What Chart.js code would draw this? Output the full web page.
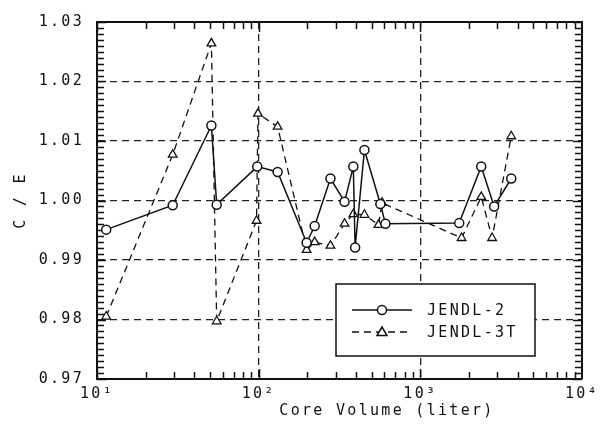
<!DOCTYPE html>
<html>
<head>
<meta charset="utf-8">
<script src="https://cdn.jsdelivr.net/npm/chart.js@4"></script>
<style>
html, body { margin: 0; padding: 0; background: #fff; }
</style>
</head>
<body>
<canvas id="grafico" width="607" height="425"></canvas>
<script>
// datos (volumen del nucleo en litros, C/E)
const volumenJendl2 = [11.4, 29.4, 51, 55, 98, 131, 198, 222, 278, 340, 385, 395, 451, 566, 608, 1740, 2380, 2860, 3650];
const ceJendl2 = [0.9951, 0.9992, 1.0126, 0.9993, 1.0057, 1.0048, 0.9929, 0.9957, 1.0037, 0.9998, 1.0057, 0.9921, 1.0085, 0.9994, 0.9961, 0.9962, 1.0057, 0.9990, 1.0037];

const volumenJendl3T = [11.4, 29.4, 51, 55, 97, 99, 131, 198, 222, 278, 340, 385, 451, 551, 580, 1800, 2380, 2780, 3650];
const ceJendl3T = [0.9805, 1.0077, 1.0264, 0.9797, 0.9966, 1.0146, 1.0124, 0.9917, 0.9930, 0.9924, 0.9961, 0.9977, 0.9976, 0.9959, 0.9996, 0.9937, 1.0006, 0.9937, 1.0108];

const ticksX = [10, 100, 1000, 10000];
const etiquetasX = ['10\u00B9', '10\u00B2', '10\u00B3', '10\u2074'];
const nombresSeries = ['JENDL-2', 'JENDL-3T'];

const fuente = '"DejaVu Sans Mono", "Liberation Mono", monospace';
const tinta = '#111';

function aPuntos(xs, ys) {
    return xs.map((x, i) => ({ x: x, y: ys[i] }));
}

// espaciado de letras tipo maquina de escribir
const espaciado = {
    id: 'espaciado',
    beforeDraw(chart) {
        chart.ctx.letterSpacing = '2.3px';
    }
};

// marco superior/derecho y marcas menores
const marcas = {
    id: 'marcas',
    beforeDatasetsDraw(chart) {
        const ctx = chart.ctx;
        const area = chart.chartArea;
        const sx = chart.scales.x;
        const sy = chart.scales.y;
        ctx.save();
        ctx.strokeStyle = tinta;
        ctx.lineWidth = 1.5;
        ctx.beginPath();
        for (let i = 0; i <= 60; i++) {
            const v = 0.97 + i * 0.001;
            const py = Math.round(sy.getPixelForValue(v)) + 0.5;
            const largo = (i % 10 === 0) ? 9 : 7;
            ctx.moveTo(area.left, py);
            ctx.lineTo(area.left + largo, py);
            ctx.moveTo(area.right, py);
            ctx.lineTo(area.right - largo, py);
        }
        for (const d of [10, 100, 1000]) {
            for (let k = 1; k <= 9; k++) {
                const px = Math.round(sx.getPixelForValue(k * d)) + 0.5;
                const largo = (k === 1) ? 10 : 7;
                ctx.moveTo(px, area.bottom);
                ctx.lineTo(px, area.bottom - largo);
                ctx.moveTo(px, area.top);
                ctx.lineTo(px, area.top + largo);
            }
        }
        ctx.stroke();
        ctx.lineWidth = 2;
        ctx.beginPath();
        ctx.moveTo(area.left, area.top);
        ctx.lineTo(area.right, area.top);
        ctx.lineTo(area.right, area.bottom);
        ctx.stroke();
        ctx.restore();
    },
    afterDraw(chart) {
        const ctx = chart.ctx;
        ctx.save();
        ctx.letterSpacing = '2.3px';
        ctx.fillStyle = tinta;
        ctx.font = '15px ' + fuente;
        ctx.textAlign = 'center';
        ctx.textBaseline = 'middle';
        ctx.fillText('Core Volume (liter)', 387, 411);

        // leyenda
        const bx = 336, by = 284, bw = 199, bh = 72;
        ctx.fillStyle = '#fff';
        ctx.fillRect(bx, by, bw, bh);
        ctx.strokeStyle = tinta;
        ctx.lineWidth = 1.5;
        ctx.strokeRect(bx, by, bw, bh);

        const filas = [310, 332];
        filas.forEach((fy, i) => {
            ctx.beginPath();
            ctx.setLineDash(i === 0 ? [] : [7, 5]);
            ctx.moveTo(352, fy);
            ctx.lineTo(412, fy);
            ctx.stroke();
            ctx.setLineDash([]);
            ctx.fillStyle = '#fff';
            ctx.beginPath();
            if (i === 0) {
                ctx.arc(382, fy, 4.5, 0, Math.PI * 2);
            } else {
                ctx.moveTo(382, fy - 5);
                ctx.lineTo(377, fy + 3.5);
                ctx.lineTo(387, fy + 3.5);
                ctx.closePath();
            }
            ctx.fill();
            ctx.stroke();
            ctx.fillStyle = tinta;
            ctx.textAlign = 'left';
            ctx.fillText(nombresSeries[i], 427, fy + 1);
        });
        ctx.restore();
    }
};

function esBorde(valor, a, b) {
    return Math.abs(valor - a) < 1e-9 || Math.abs(valor - b) < 1e-9;
}

const config = {
    type: 'line',
    data: {
        datasets: [{
            label: nombresSeries[0],
            data: aPuntos(volumenJendl2, ceJendl2),
            borderColor: tinta,
            borderWidth: 1.5,
            backgroundColor: '#fff',
            pointStyle: 'circle',
            pointRadius: 4.5,
            pointBorderWidth: 1.5,
            tension: 0
        }, {
            label: nombresSeries[1],
            data: aPuntos(volumenJendl3T, ceJendl3T),
            borderColor: tinta,
            borderWidth: 1.3,
            borderDash: [7, 5],
            backgroundColor: '#fff',
            pointStyle: 'triangle',
            pointRadius: 5,
            pointBorderWidth: 1.3,
            tension: 0
        }]
    },
    options: {
        responsive: false,
        animation: false,
        devicePixelRatio: 1,
        layout: { padding: { top: 19, right: 25, bottom: 0, left: 0 } },
        plugins: {
            legend: { display: false },
            tooltip: { enabled: false }
        },
        scales: {
            x: {
                type: 'logarithmic',
                min: 10,
                max: 10000,
                afterBuildTicks: axis => {
                    axis.ticks = ticksX.map(v => ({ value: v }));
                },
                afterFit: scale => { scale.height = 46; },
                ticks: {
                    autoSkip: false,
                    maxRotation: 0,
                    padding: 6,
                    color: tinta,
                    font: { family: fuente, size: 15 },
                    callback: (value) => {
                        const i = ticksX.indexOf(value);
                        return i >= 0 ? etiquetasX[i] : '';
                    }
                },
                grid: {
                    drawTicks: false,
                    lineWidth: 1.3,
                    color: c => (c.tick && esBorde(c.tick.value, 10, 10000)) ? 'rgba(0,0,0,0)' : '#222'
                },
                border: { display: true, color: tinta, width: 2, dash: [7, 5] }
            },
            y: {
                min: 0.97,
                max: 1.03,
                afterFit: scale => { scale.width = 97; },
                ticks: {
                    stepSize: 0.01,
                    padding: 13,
                    color: tinta,
                    font: { family: fuente, size: 15 },
                    callback: value => value.toFixed(2)
                },
                grid: {
                    drawTicks: false,
                    lineWidth: 1.3,
                    color: c => (c.tick && esBorde(c.tick.value, 0.97, 1.03)) ? 'rgba(0,0,0,0)' : '#222'
                },
                border: { display: true, color: tinta, width: 2, dash: [7, 5] },
                title: {
                    display: true,
                    text: 'C / E',
                    color: tinta,
                    font: { family: fuente, size: 15 },
                    padding: { top: 12, bottom: 0 }
                }
            }
        }
    },
    plugins: [espaciado, marcas]
};

const ctx = document.getElementById('grafico').getContext('2d');
new Chart(ctx, config);
</script>
</body>
</html>
